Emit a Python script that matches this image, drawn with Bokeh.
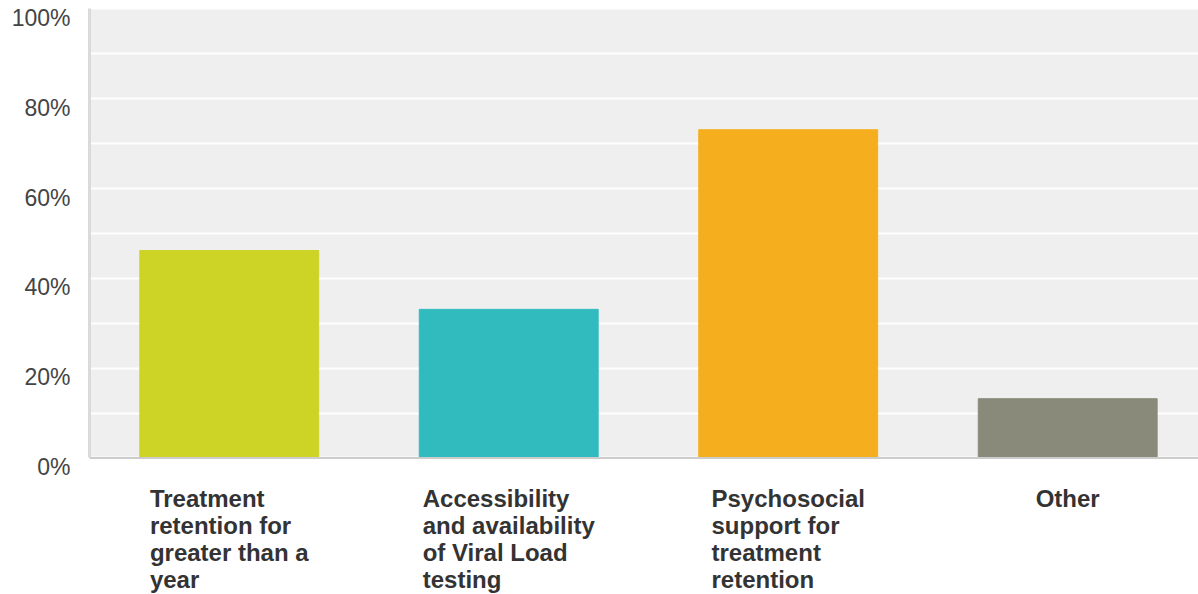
from bokeh.plotting import figure
from bokeh.models import (Range1d, FixedTicker, Label, Span, ColumnDataSource,
                          BoxAnnotation, LinearAxis)
from bokeh.embed import file_html
from bokeh.resources import INLINE

categories = ["Treatment\nretention for\ngreater than a\nyear",
              "Accessibility\nand availability\nof Viral Load\ntesting",
              "Psychosocial\nsupport for\ntreatment\nretention",
              "Other"]
positions = [0.5, 1.5, 2.5, 3.5]
values = [46.2, 33.1, 73.1, 13.2]
colors = ["#CDD426", "#32BBBE", "#F5AE1E", "#8A8A7A"]
y_ticks = [0, 20, 40, 60, 80, 100]
grid_ticks = [0, 10, 20, 30, 40, 50, 60, 70, 80, 90, 100]
tick_labels = {t: f"{t}%" for t in y_ticks}

src = ColumnDataSource(dict(x=positions, top=values, color=colors))

p = figure(width=1198, height=594, output_backend="svg", toolbar_location=None,
           x_range=Range1d(0, 3.968), y_range=Range1d(-30.4, 100.1),
           min_border_left=89, min_border_right=0, min_border_top=8,
           min_border_bottom=0)
p.outline_line_color = None
p.background_fill_color = "white"
p.border_fill_color = "white"

# plot-area shading for the 0-100 % region
p.add_layout(BoxAnnotation(bottom=0, top=100, fill_color="#EFEFEF", fill_alpha=1,
                           line_color=None, level="image"))

p.vbar(x="x", top="top", bottom=0, width=0.64, color="color", source=src)

p.xaxis.visible = False
p.xgrid.visible = False

# main y axis: only the left border line
ax = p.yaxis[0]
ax.ticker = FixedTicker(ticks=[])
ax.bounds = (0, 100)
ax.major_tick_line_color = None
ax.minor_tick_line_color = None
ax.major_tick_out = 0
ax.major_tick_in = 0
ax.major_label_standoff = 0
ax.axis_line_color = "#DADADA"
ax.axis_line_width = 3

p.ygrid.ticker = FixedTicker(ticks=grid_ticks)
p.ygrid.grid_line_color = "white"
p.ygrid.grid_line_width = 2

# label axis, offset slightly below the grid lines as in the original
p.extra_y_ranges = {"lab": Range1d(-28.4, 102.1)}
lab = LinearAxis(y_range_name="lab", ticker=FixedTicker(ticks=y_ticks))
lab.major_label_overrides = tick_labels
lab.axis_line_color = None
lab.major_tick_line_color = None
lab.minor_tick_line_color = None
lab.major_tick_out = 0
lab.major_tick_in = 0
lab.major_label_standoff = 19
lab.major_label_text_font = "Liberation Sans"
lab.major_label_text_font_size = "23px"
lab.major_label_text_color = "#444444"
p.add_layout(lab, "left")

p.add_layout(Span(location=0, dimension="width", line_color="#CCCCCC", line_width=2))

for xpos, txt in zip(positions, categories):
    p.add_layout(Label(x=xpos, y=-6.1, text=txt, anchor="top_center", text_align="left",
                       text_font="Liberation Sans", text_font_style="bold",
                       text_font_size="24px", text_color="#333333",
                       text_line_height=0.99))

open("out.html", "w").write(file_html(p, INLINE))
